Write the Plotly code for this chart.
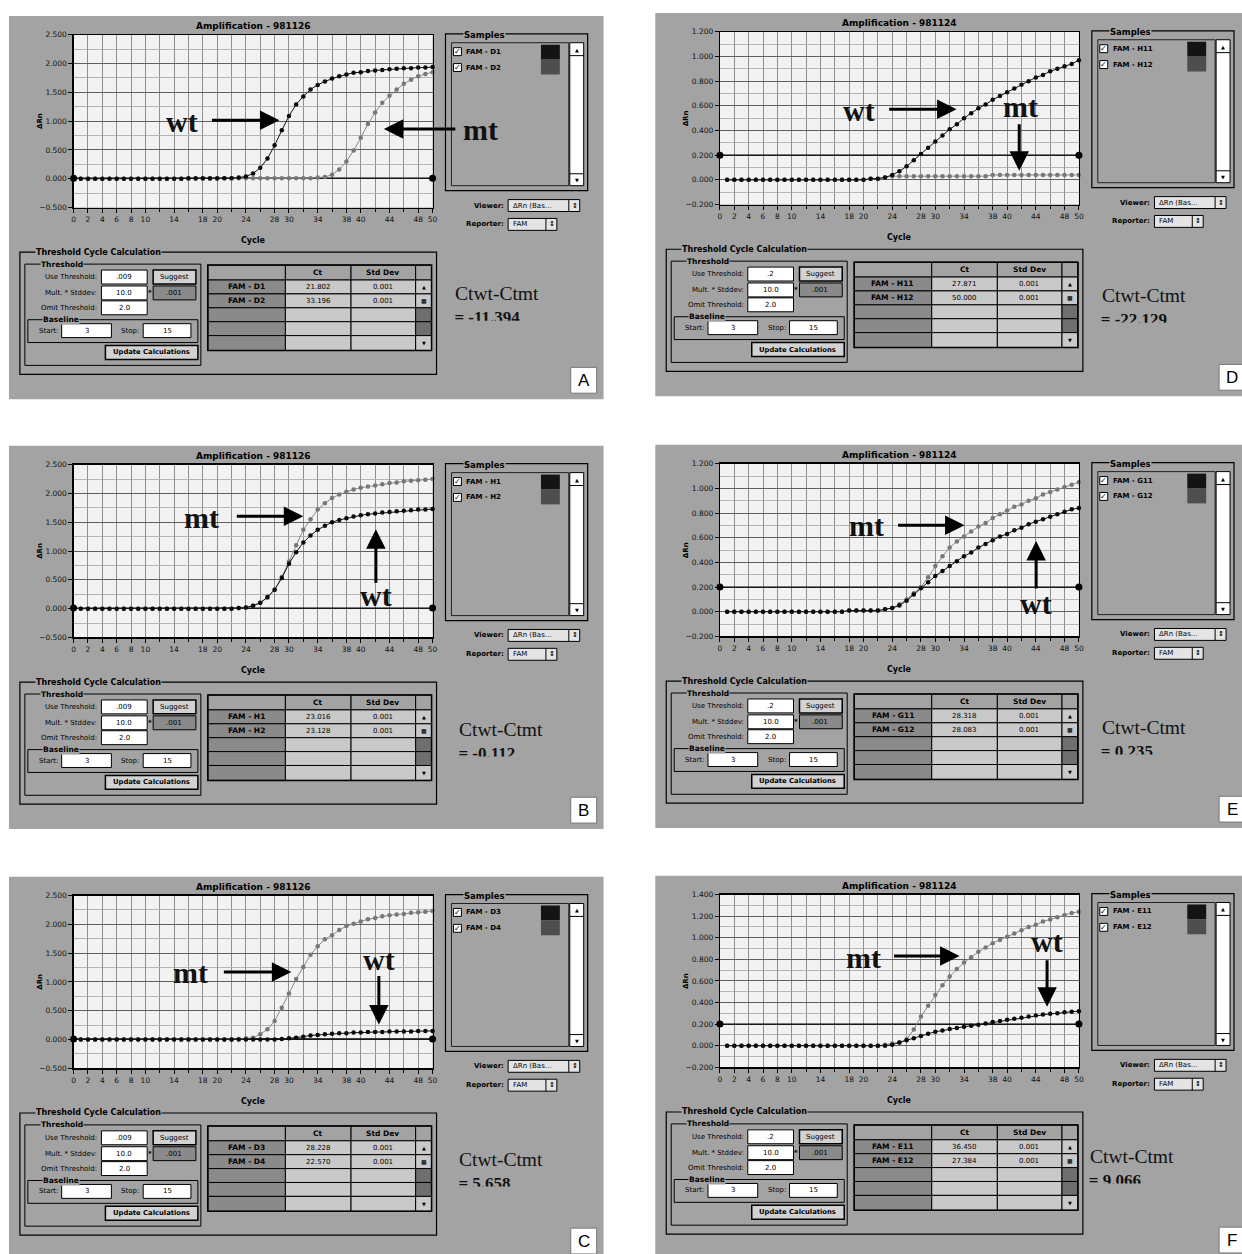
import plotly.graph_objects as go

W, H = 1242, 1254

# ---------------- data ----------------
cycles = list(range(1, 51))
x_tick_vals = [0, 2, 4, 6, 8, 10, 14, 18, 20, 24, 28, 30, 34, 38, 40, 44, 48, 50]

panel_keys = ["A", "B", "C", "D", "E", "F"]
run_titles = ["Amplification - 981126", "Amplification - 981126", "Amplification - 981126",
              "Amplification - 981124", "Amplification - 981124", "Amplification - 981124"]
sample_wt = ["FAM - D1", "FAM - H1", "FAM - D3", "FAM - H11", "FAM - G11", "FAM - E11"]
sample_mt = ["FAM - D2", "FAM - H2", "FAM - D4", "FAM - H12", "FAM - G12", "FAM - E12"]
ct_wt = ["21.802", "23.016", "28.228", "27.871", "28.318", "36.450"]
ct_mt = ["33.196", "23.128", "22.570", "50.000", "28.083", "27.384"]
sd_wt = ["0.001", "0.001", "0.001", "0.001", "0.001", "0.001"]
sd_mt = ["0.001", "0.001", "0.001", "0.001", "0.001", "0.001"]
threshold = [0.009, 0.009, 0.009, 0.2, 0.2, 0.2]
threshold_txt = [".009", ".009", ".009", ".2", ".2", ".2"]
delta_ct = ["= -11.394", "= -0.112", "= 5.658", "= -22.129", "= 0.235", "= 9.066"]
y_min = [-0.5, -0.5, -0.5, -0.2, -0.2, -0.2]
y_max = [2.5, 2.5, 2.5, 1.2, 1.2, 1.4]
y_step = [0.5, 0.5, 0.5, 0.2, 0.2, 0.2]

wt_A = [0.00, 0.00, 0.00, 0.00, 0.00, 0.00, 0.00, 0.00, 0.00, 0.00,
        0.00, 0.00, 0.00, 0.00, 0.00, 0.01, 0.01, 0.01, 0.01, 0.01,
        0.01, 0.01, 0.02, 0.04, 0.09, 0.19, 0.35, 0.58, 0.84, 1.09,
        1.29, 1.43, 1.55, 1.63, 1.69, 1.74, 1.78, 1.81, 1.84, 1.85,
        1.87, 1.88, 1.89, 1.90, 1.91, 1.92, 1.92, 1.93, 1.93, 1.94]
mt_A = [0.00, 0.00, 0.00, 0.00, 0.00, 0.00, 0.00, 0.00, 0.00, 0.00,
        0.00, 0.00, 0.00, 0.00, 0.00, 0.00, 0.00, 0.00, 0.00, 0.00,
        0.01, 0.01, 0.01, 0.01, 0.01, 0.01, 0.01, 0.01, 0.01, 0.01,
        0.01, 0.01, 0.01, 0.02, 0.03, 0.07, 0.16, 0.30, 0.49, 0.71,
        0.95, 1.15, 1.32, 1.44, 1.55, 1.65, 1.72, 1.78, 1.82, 1.85]
wt_B = [0.00, 0.00, 0.00, 0.00, 0.00, 0.00, 0.00, 0.00, 0.00, 0.00,
        0.00, 0.00, 0.00, 0.00, 0.00, 0.00, 0.00, 0.00, 0.00, 0.00,
        0.00, 0.00, 0.01, 0.02, 0.05, 0.10, 0.20, 0.33, 0.53, 0.78,
        0.98, 1.15, 1.27, 1.37, 1.44, 1.50, 1.54, 1.57, 1.60, 1.62,
        1.64, 1.65, 1.67, 1.68, 1.69, 1.70, 1.71, 1.72, 1.72, 1.73]
mt_B = [0.00, 0.00, 0.00, 0.00, 0.00, 0.00, 0.00, 0.00, 0.00, 0.00,
        0.00, 0.00, 0.00, 0.00, 0.00, 0.00, 0.00, 0.00, 0.00, 0.00,
        0.00, 0.00, 0.01, 0.02, 0.05, 0.10, 0.19, 0.33, 0.55, 0.82,
        1.10, 1.37, 1.55, 1.72, 1.83, 1.92, 1.98, 2.03, 2.07, 2.10,
        2.12, 2.14, 2.16, 2.18, 2.19, 2.21, 2.22, 2.23, 2.24, 2.25]
wt_C = [0.00, 0.00, 0.00, 0.00, 0.00, 0.00, 0.00, 0.00, 0.00, 0.00,
        0.00, 0.00, 0.00, 0.00, 0.00, 0.00, 0.00, 0.00, 0.00, 0.00,
        0.00, 0.00, 0.00, 0.00, 0.00, 0.00, 0.00, 0.00, 0.01, 0.02,
        0.03, 0.05, 0.07, 0.08, 0.09, 0.10, 0.11, 0.11, 0.12, 0.12,
        0.13, 0.13, 0.13, 0.14, 0.14, 0.14, 0.14, 0.15, 0.15, 0.15]
mt_C = [0.00, 0.00, 0.00, 0.00, 0.00, 0.00, 0.00, 0.00, 0.00, 0.00,
        0.00, 0.00, 0.00, 0.00, 0.00, 0.00, 0.00, 0.00, 0.00, 0.00,
        0.00, 0.00, 0.01, 0.02, 0.03, 0.09, 0.18, 0.32, 0.55, 0.80,
        1.05, 1.26, 1.47, 1.62, 1.74, 1.81, 1.90, 1.97, 2.01, 2.05,
        2.09, 2.11, 2.14, 2.16, 2.17, 2.18, 2.20, 2.21, 2.22, 2.23]
wt_D = [0.00, 0.00, 0.00, 0.00, 0.00, 0.00, 0.00, 0.00, 0.00, 0.00,
        0.00, 0.00, 0.00, 0.00, 0.00, 0.00, 0.00, 0.00, 0.00, 0.00,
        0.01, 0.01, 0.02, 0.04, 0.07, 0.11, 0.16, 0.21, 0.26, 0.31,
        0.36, 0.41, 0.45, 0.50, 0.54, 0.58, 0.61, 0.65, 0.68, 0.71,
        0.74, 0.77, 0.80, 0.83, 0.85, 0.88, 0.90, 0.92, 0.94, 0.97]
mt_D = [0.00, 0.00, 0.00, 0.00, 0.00, 0.00, 0.00, 0.00, 0.00, 0.00,
        0.00, 0.00, 0.00, 0.00, 0.00, 0.00, 0.00, 0.00, 0.00, 0.00,
        0.01, 0.01, 0.02, 0.03, 0.03, 0.03, 0.03, 0.03, 0.03, 0.03,
        0.03, 0.03, 0.03, 0.03, 0.03, 0.03, 0.03, 0.04, 0.04, 0.04,
        0.04, 0.04, 0.04, 0.04, 0.04, 0.04, 0.04, 0.04, 0.04, 0.04]
wt_E = [0.00, 0.00, 0.00, 0.00, 0.00, 0.00, 0.00, 0.00, 0.00, 0.00,
        0.00, 0.00, 0.00, 0.00, 0.00, 0.00, 0.00, 0.01, 0.01, 0.01,
        0.01, 0.01, 0.02, 0.03, 0.05, 0.09, 0.14, 0.19, 0.24, 0.29,
        0.33, 0.37, 0.41, 0.45, 0.48, 0.52, 0.55, 0.58, 0.61, 0.63,
        0.66, 0.68, 0.71, 0.73, 0.75, 0.77, 0.79, 0.81, 0.83, 0.84]
mt_E = [0.00, 0.00, 0.00, 0.00, 0.00, 0.00, 0.00, 0.00, 0.00, 0.00,
        0.00, 0.00, 0.00, 0.00, 0.00, 0.00, 0.00, 0.01, 0.01, 0.01,
        0.01, 0.01, 0.02, 0.03, 0.06, 0.10, 0.15, 0.20, 0.28, 0.37,
        0.45, 0.52, 0.57, 0.61, 0.65, 0.69, 0.72, 0.76, 0.79, 0.82,
        0.85, 0.87, 0.90, 0.92, 0.95, 0.97, 0.99, 1.01, 1.03, 1.05]
wt_F = [0.00, 0.00, 0.00, 0.00, 0.00, 0.00, 0.00, 0.00, 0.00, 0.00,
        0.00, 0.00, 0.00, 0.00, 0.00, 0.00, 0.00, 0.00, 0.00, 0.00,
        0.00, 0.00, 0.00, 0.01, 0.03, 0.05, 0.07, 0.09, 0.11, 0.13,
        0.14, 0.155, 0.165, 0.175, 0.185, 0.195, 0.205, 0.22, 0.23, 0.24,
        0.25, 0.26, 0.27, 0.28, 0.29, 0.295, 0.30, 0.31, 0.315, 0.32]
mt_F = [0.00, 0.00, 0.00, 0.00, 0.00, 0.00, 0.00, 0.00, 0.00, 0.00,
        0.00, 0.00, 0.00, 0.00, 0.00, 0.00, 0.00, 0.00, 0.00, 0.00,
        0.00, 0.00, 0.01, 0.02, 0.03, 0.06, 0.15, 0.27, 0.37, 0.47,
        0.56, 0.64, 0.71, 0.77, 0.82, 0.87, 0.91, 0.95, 0.98, 1.01,
        1.04, 1.07, 1.10, 1.12, 1.15, 1.17, 1.19, 1.21, 1.23, 1.24]

wt_series = [wt_A, wt_B, wt_C, wt_D, wt_E, wt_F]
mt_series = [mt_A, mt_B, mt_C, mt_D, mt_E, mt_F]

# ---------------- layout config (positions / styles) ----------------
offsets = [(0, 0), (0, 433), (0, 867), (650, -3), (650, 432), (650, 866)]
ct_tweak = [(0, -4), (4, 2), (4, 1), (0, 1), (0, 1), (-12, -1)]
letter_tweak = [(0, 0), (0, 0), (0, 0), (2, 0), (2, 0), (2, 0)]
arrow_cfg = [
    [("wt", 181, 118, 210, 117, 279, 117), ("mt", 481, 126, 457, 126, 384, 126)],
    [("mt", 201, 517, 235, 516, 303, 516), ("wt", 376, 596, 376, 584, 376, 529)],
    [("mt", 190, 975, 222, 975, 291, 975), ("wt", 379, 962, 379, 978, 379, 1028)],
    [("wt", 862, 107, 891, 106, 960, 106), ("mt", 1024, 103, 1023, 120, 1023, 168)],
    [("mt", 869, 525, 900, 525, 968, 525), ("wt", 1040, 604, 1040, 590, 1040, 541)],
    [("mt", 866, 960, 896, 959, 963, 959), ("wt", 1051, 944, 1051, 962, 1051, 1010)],
]

UI = "DejaVu Sans"
SANS = "Liberation Sans"
SERIF = "Liberation Serif"
PANEL = "#a3a3a3"
PLOTBG = "#f2f2f2"
VGRID = "#8f8f8f"
HGRID = "#606060"
MGRID = "#b4b4b4"
LABELCELL = "#8a8a8a"
CELL = "#c9c9c9"
BTN = "#d2d2d2"


def X(px):
    return px / W


def Y(py):
    return 1 - py / H


shapes = []
annotations = []


def rect(x0, y0, x1, y1, fill=None, line="black", lw=1, layer="below"):
    d = dict(type="rect", xref="paper", yref="paper",
             x0=X(x0), x1=X(x1), y0=Y(y1), y1=Y(y0), layer=layer,
             line=dict(color=line if line else "rgba(0,0,0,0)", width=lw if line else 0))
    d["fillcolor"] = fill if fill else "rgba(0,0,0,0)"
    shapes.append(d)


def hline(x0, x1, y, color="black", lw=1):
    shapes.append(dict(type="line", xref="paper", yref="paper", x0=X(x0), x1=X(x1),
                       y0=Y(y), y1=Y(y), line=dict(color=color, width=lw), layer="below"))


def vline(x, y0, y1, color="black", lw=1):
    shapes.append(dict(type="line", xref="paper", yref="paper", x0=X(x), x1=X(x),
                       y0=Y(y0), y1=Y(y1), line=dict(color=color, width=lw), layer="below"))


def text(x, y, s, size=7.5, bold=True, color="#000", family=UI, xanchor="center",
         bg=None, angle=0):
    d = dict(xref="paper", yref="paper", x=X(x), y=Y(y),
             text=(f"<b>{s}</b>" if bold else s), showarrow=False,
             font=dict(size=size, color=color, family=family),
             xanchor=xanchor, yanchor="middle", textangle=angle, borderpad=0)
    if bg:
        d["bgcolor"] = bg
    annotations.append(d)


def arrow(tx, ty, hx, hy):
    annotations.append(dict(xref="paper", yref="paper", x=X(hx), y=Y(hy),
                            ax=tx - hx, ay=ty - hy, axref="pixel", ayref="pixel",
                            text="", showarrow=True, arrowhead=2, arrowsize=1.3,
                            arrowwidth=3, arrowcolor="black"))


fig = go.Figure()
layout_axes = {}

for i in range(6):
    dx, dy = offsets[i]
    k = i + 1

    def R(x0, y0, x1, y1, **kw):
        rect(x0 + dx, y0 + dy, x1 + dx, y1 + dy, **kw)

    def T(x, y, s, **kw):
        text(x + dx, y + dy, s, **kw)

    # panel background + plot area background
    R(7, 12, 605, 398, fill=PANEL, line=None)
    R(72, 31, 433, 205, fill=PLOTBG, line=None)

    # titles around the plot
    T(253, 22, run_titles[i], size=9)
    T(253, 238, "Cycle", size=8)
    T(38, 118, "ΔRn", size=7, angle=-90)

    # ---- Samples box ----
    R(446, 30, 589, 188, line="black", lw=1.2)
    T(485, 31, "Samples", size=8.5, bg=PANEL)
    R(452, 39, 570, 183, line="#222", lw=1)
    R(571, 39, 585, 183, fill="white", line="black", lw=1)
    hline(571 + dx, 585 + dx, 52 + dy)
    hline(571 + dx, 585 + dx, 171 + dy)
    T(578, 46, "▲", size=5, bold=False)
    T(578, 177, "▼", size=5, bold=False)
    for j, (name, col) in enumerate([(sample_wt[i], "#141414"), (sample_mt[i], "#4e4e4e")]):
        yy = 48 + 16 * j
        R(454, yy - 4, 462, yy + 4, fill="white", line="black", lw=1)
        T(458, yy, "✓", size=8, bold=True)
        T(466, yy, name, size=7, xanchor="left", bold=True)
        R(542, 41 + 15 * j, 561, 56 + 15 * j, fill=col, line=None)
    T(506, 203, "Viewer:", size=7, xanchor="right")
    R(509, 197, 581, 209, fill="#e4e4e4", line="black", lw=1)
    vline(570 + dx, 197 + dy, 209 + dy)
    T(513, 203, "ΔRn (Bas…", size=7, xanchor="left", bold=False)
    T(576, 203, "↕", size=7)
    T(506, 222, "Reporter:", size=7, xanchor="right")
    R(509, 216, 558, 228, fill="#e4e4e4", line="black", lw=1)
    vline(547 + dx, 216 + dy, 228 + dy)
    T(513, 222, "FAM", size=7, xanchor="left", bold=False)
    T(553, 222, "↕", size=7)

    # ---- Threshold Cycle Calculation ----
    R(18, 250, 437, 373, line="black", lw=1.2)
    T(33, 250, "Threshold Cycle Calculation", size=8, xanchor="left", bg=PANEL)
    R(23, 262, 200, 364, line="black", lw=1)
    T(38, 262, "Threshold", size=7.5, xanchor="left", bg=PANEL)
    T(97, 275, "Use Threshold:", size=7, xanchor="right", bold=False)
    T(97, 291, "Mult. * Stddev:", size=7, xanchor="right", bold=False)
    T(97, 306, "Omit Threshold:", size=7, xanchor="right", bold=False)
    R(100, 268, 146, 282, fill="white", line="black")
    R(100, 284, 146, 298, fill="white", line="black")
    R(100, 299, 146, 313, fill="white", line="black")
    T(123, 275, threshold_txt[i], size=7, bold=False)
    T(123, 291, "10.0", size=7, bold=False)
    T(123, 306, "2.0", size=7, bold=False)
    T(149, 291, "*", size=7)
    R(152, 268, 195, 282, fill=BTN, line="black", lw=1.5)
    T(173, 275, "Suggest", size=7, bold=False)
    R(152, 284, 195, 298, fill=LABELCELL, line="black", lw=1)
    T(173, 291, ".001", size=7, bold=False)
    R(26, 318, 197, 341, line="black", lw=1)
    T(40, 318, "Baseline", size=7.5, xanchor="left", bg=PANEL)
    T(57, 329, "Start:", size=7, xanchor="right", bold=False)
    R(60, 322, 110, 336, fill="white", line="black")
    T(85, 329, "3", size=7, bold=False)
    T(139, 329, "Stop:", size=7, xanchor="right", bold=False)
    R(142, 322, 190, 336, fill="white", line="black")
    T(166, 329, "15", size=7, bold=False)
    R(104, 344, 197, 358, fill=BTN, line="black", lw=1.5)
    T(150, 351, "Update Calculations", size=6.8, bold=True)

    # ---- Ct table ----
    cols = [207, 285, 351, 416, 432]
    rows = [263, 278, 292, 306, 320, 334, 349]
    for r in range(6):
        for c in range(4):
            if r == 0:
                fill = PANEL
            elif c == 0:
                fill = LABELCELL
            elif c == 3 and r in (3, 4):
                fill = "#6f6f6f"
            else:
                fill = CELL
            R(cols[c], rows[r], cols[c + 1], rows[r + 1], fill=fill, line="black", lw=1)
    R(207, 263, 432, 349, line="black", lw=1.5)
    T(318, 270.5, "Ct", size=7.5)
    T(383, 270.5, "Std Dev", size=7.5)
    T(246, 285, sample_wt[i], size=7.5)
    T(246, 299, sample_mt[i], size=7.5)
    T(318, 285, ct_wt[i], size=7, bold=False)
    T(318, 299, ct_mt[i], size=7, bold=False)
    T(383, 285, sd_wt[i], size=7, bold=False)
    T(383, 299, sd_mt[i], size=7, bold=False)
    T(424, 285, "▲", size=5, bold=False)
    T(424, 299, "■", size=6, bold=False, color="#333")
    T(424, 341.5, "▼", size=5, bold=False)

    # ---- Ctwt-Ctmt ----
    tx, ty = ct_tweak[i]
    T(498 + tx, 296 + ty, "Ctwt-Ctmt", size=19.5, bold=False, family=SERIF, color="#111")

    # ---- panel letter ----
    lx, ly = letter_tweak[i]
    R(572 + lx, 366 + ly, 598 + lx, 392 + ly, fill="white", line="#777", lw=1)
    T(585 + lx, 379 + ly, panel_keys[i], size=17, bold=False, family=SANS)

    # ---- axes ----
    xa = dict(domain=[X(72 + dx), X(433 + dx)], range=[0, 50], anchor=f"y{k}",
              tickvals=x_tick_vals, ticktext=[str(v) for v in x_tick_vals],
              ticks="outside", ticklen=4, tickcolor="black", tickwidth=1,
              showgrid=True, gridcolor=VGRID, gridwidth=1,
              minor=dict(dtick=2, tick0=0, showgrid=True, gridcolor=VGRID, gridwidth=1,
                         ticks="outside", ticklen=3, tickcolor="black"),
              showline=True, linecolor="black", linewidth=1.2, mirror=True,
              zeroline=False, fixedrange=True,
              tickfont=dict(family=UI, size=7.5, color="#111"))
    ya = dict(domain=[Y(205 + dy), Y(31 + dy)], range=[y_min[i], y_max[i]], anchor=f"x{k}",
              dtick=y_step[i], tick0=0, tickformat=".3f",
              ticks="outside", ticklen=4, tickcolor="black",
              showgrid=True, gridcolor=HGRID, gridwidth=1,
              minor=dict(dtick=y_step[i] / 2, showgrid=True, gridcolor=MGRID, gridwidth=1),
              showline=True, linecolor="black", linewidth=1.2, mirror=True,
              zeroline=False, fixedrange=True,
              tickfont=dict(family=UI, size=7.5, color="#111"))
    layout_axes[f"xaxis{k}"] = xa
    layout_axes[f"yaxis{k}"] = ya

    xs, ys = f"x{k}", f"y{k}"
    fig.add_trace(go.Scatter(x=[0, 50], y=[threshold[i], threshold[i]], mode="lines+markers",
                             line=dict(color="black", width=1.3),
                             marker=dict(size=7, color="black"),
                             cliponaxis=False, xaxis=xs, yaxis=ys, hoverinfo="skip"))
    fig.add_trace(go.Scatter(x=cycles, y=mt_series[i], mode="lines+markers",
                             line=dict(color="#8a8a8a", width=1),
                             marker=dict(size=4.5, color="#777777"),
                             cliponaxis=False, xaxis=xs, yaxis=ys, name=sample_mt[i]))
    fig.add_trace(go.Scatter(x=cycles, y=wt_series[i], mode="lines+markers",
                             line=dict(color="#111111", width=1),
                             marker=dict(size=4.5, color="#0a0a0a"),
                             cliponaxis=False, xaxis=xs, yaxis=ys, name=sample_wt[i]))

    # ---- clipped result text (bottom of glyphs cut as in the print) ----
    kc = k + 6
    bx0, bx1 = 450 + dx + tx, 590 + dx + tx
    by_top, by_bot = 305 + dy + ty, 323 + dy + ty
    layout_axes[f"xaxis{kc}"] = dict(domain=[X(bx0), X(bx1)], range=[0, 1], visible=False,
                                     anchor=f"y{kc}", fixedrange=True)
    layout_axes[f"yaxis{kc}"] = dict(domain=[Y(by_bot), Y(by_top)], range=[0, 1], visible=False,
                                     anchor=f"x{kc}", fixedrange=True)
    fig.add_trace(go.Scatter(x=[(455 + dx + tx - bx0) / (bx1 - bx0)],
                             y=[(by_bot - (321 + dy + ty)) / (by_bot - by_top)],
                             mode="text", text=[f"<b>{delta_ct[i]}</b>"],
                             textposition="middle right",
                             textfont=dict(family=SERIF, size=17, color="#111"),
                             cliponaxis=True, xaxis=f"x{kc}", yaxis=f"y{kc}", hoverinfo="skip"))

    # ---- wt / mt arrows ----
    for (lab, lx2, ly2, ax0, ay0, hx, hy) in arrow_cfg[i]:
        text(lx2, ly2, lab, size=30, bold=True, family=SERIF, color="#111")
        arrow(ax0, ay0, hx, hy)

fig.update_layout(
    width=W, height=H, margin=dict(l=0, r=0, t=0, b=0),
    paper_bgcolor="white", plot_bgcolor="rgba(0,0,0,0)",
    showlegend=False, shapes=shapes, annotations=annotations,
    **layout_axes,
)

fig.write_html("out.html",
               config={"displayModeBar": False, "staticPlot": True},
               post_script="document.body.style.margin='0';document.body.style.overflow='hidden';")
